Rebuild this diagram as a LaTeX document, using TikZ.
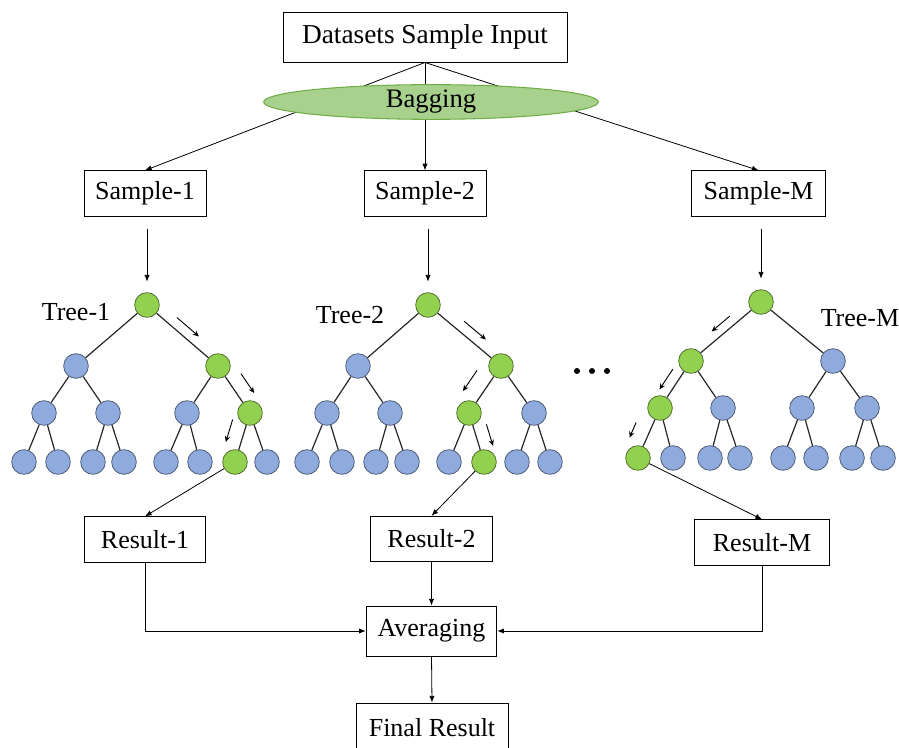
\documentclass[tikz,border=0pt]{standalone}
\usepackage{fontspec}
\setmainfont{Liberation Serif}
\usepackage{tikz}
\usetikzlibrary{calc,shapes.geometric,arrows.meta}

\definecolor{leafblue}{HTML}{8FAADC}
\definecolor{pathgreen}{HTML}{92D050}
\definecolor{bagfill}{HTML}{A9D18E}
\definecolor{bagline}{HTML}{70AD47}

\tikzset{
  box/.style={draw, line width=0.7pt, minimum height=34pt, inner sep=0pt, font=\fontsize{19.5}{22}\selectfont},
  label/.style={font=\fontsize{19.5}{22}\selectfont},
  tnode/.style={circle, line width=0.6pt, minimum size=18.5pt, inner sep=0pt},
  edge/.style={line width=0.9pt, draw=black!85},
  arr/.style={-{Latex[length=5pt,width=4pt]}, line width=0.6pt},
  walk/.style={-{Stealth[length=4.5pt,width=4pt]}, line width=0.7pt}
}

\begin{document}
\begin{tikzpicture}[x=0.75pt,y=-0.75pt]
    \clip (0,0) rectangle (899,748);

    % draw input and samples
    \node[box, minimum width=213pt, minimum height=37.5pt, font=\fontsize{20.5}{24}\selectfont] (data) at (425,37) {Datasets Sample Input};
    \node[box, minimum width=91.5pt] (s1) at (145,193.5) {Sample-1};
    \node[box, minimum width=91.5pt] (s2) at (425,193.5) {Sample-2};
    \node[box, minimum width=100pt] (sM) at (758.5,193.5) {Sample-M};

    \draw[arr] (data.south) -- (s1.north);
    \draw[arr] (data.south) -- (s2.north);
    \draw[arr] (data.south) -- (sM.north);

    % draw bagging
    \node[ellipse, draw=bagline, fill=bagfill, line width=0.8pt, minimum width=251pt, minimum height=26pt,
          inner sep=0pt, font=\fontsize{20}{22}\selectfont] (bag) at (431,102) {Bagging};

    % draw tree 1
    \foreach \n/\x/\y/\c in {0/147/305/pathgreen, 1/76/366/leafblue, 2/218/366/pathgreen,
        3/44/413/leafblue, 4/108/413/leafblue, 5/187/413/leafblue, 6/250/413/pathgreen,
        7/24/462/leafblue, 8/58/462/leafblue, 9/93/462/leafblue, 10/124/462/leafblue,
        11/166/462/leafblue, 12/200/462/leafblue, 13/235/462/pathgreen, 14/267/462/leafblue}
    \node[tnode, fill=\c, draw=\c!55!black] (t1-\n) at (\x,\y) {};

    % draw tree 2
    \foreach \n/\x/\y/\c in {0/428/305/pathgreen, 1/358/366/leafblue, 2/501/366/pathgreen,
        3/327/413/leafblue, 4/390/413/leafblue, 5/469/413/pathgreen, 6/534/413/leafblue,
        7/307/462/leafblue, 8/342/462/leafblue, 9/376/462/leafblue, 10/407/462/leafblue,
        11/449/462/leafblue, 12/484/462/pathgreen, 13/517/462/leafblue, 14/550/462/leafblue}
    \node[tnode, fill=\c, draw=\c!55!black] (t2-\n) at (\x,\y) {};

    % draw tree M
    \foreach \n/\x/\y/\c in {0/761/302/pathgreen, 1/691/361/pathgreen, 2/833/361/leafblue,
        3/660/408/pathgreen, 4/723/408/leafblue, 5/802/408/leafblue, 6/867/408/leafblue,
        7/638/458/pathgreen, 8/673/458/leafblue, 9/710/458/leafblue, 10/740/458/leafblue,
        11/783/458/leafblue, 12/816/458/leafblue, 13/852/458/leafblue, 14/883/458/leafblue}
    \node[tnode, fill=\c, draw=\c!55!black] (tM-\n) at (\x,\y) {};

    % draw tree edges
    \foreach \t in {t1,t2,tM}
    \foreach \i in {1,...,14} {
        \pgfmathtruncatemacro\p{(\i-1)/2}
        \draw[edge] (\t-\p) -- (\t-\i);
    }

    % draw tree labels and dots
    \node[label] (lab1) at (76,312) {Tree-1};
    \node[label] (lab2) at (350,315) {Tree-2};
    \node[label] (labM) at (860,318) {Tree-M};
    \foreach \k/\x in {1/577,2/592,3/607}
    \node[circle, fill, inner sep=0pt, minimum size=4.5pt] (dot\k) at (\x,371) {};

    % draw sample to tree arrows
    \draw[arr, shorten <=9pt, shorten >=8pt] (t1-0 |- s1.south) -- (t1-0);
    \draw[arr, shorten <=9pt, shorten >=8pt] (t2-0 |- s2.south) -- (t2-0);
    \draw[arr, shorten <=9pt, shorten >=8pt] (tM-0 |- sM.south) -- (tM-0);

    % draw decision path arrows
    \draw[walk] ($(t1-0)!0.33!(t1-2)!7.5pt!90:(t1-2)$) -- ($(t1-0)!0.64!(t1-2)!7.5pt!90:(t1-2)$);
    \draw[walk] ($(t1-2)!0.34!(t1-6)!11pt!90:(t1-6)$) -- ($(t1-2)!0.75!(t1-6)!11pt!90:(t1-6)$);
    \draw[walk] ($(t1-6)!0.22!(t1-13)!11pt!-90:(t1-13)$) -- ($(t1-6)!0.68!(t1-13)!11pt!-90:(t1-13)$);

    \draw[walk] ($(t2-0)!0.40!(t2-2)!8pt!90:(t2-2)$) -- ($(t2-0)!0.70!(t2-2)!8pt!90:(t2-2)$);
    \draw[walk] ($(t2-2)!0.30!(t2-5)!13pt!-90:(t2-5)$) -- ($(t2-2)!0.74!(t2-5)!13pt!-90:(t2-5)$);
    \draw[walk] ($(t2-5)!0.31!(t2-12)!10pt!90:(t2-12)$) -- ($(t2-5)!0.75!(t2-12)!10pt!90:(t2-12)$);

    \draw[walk] ($(tM-0)!0.36!(tM-1)!7pt!-90:(tM-1)$) -- ($(tM-0)!0.62!(tM-1)!7pt!-90:(tM-1)$);
    \draw[walk] ($(tM-1)!0.30!(tM-3)!8pt!-90:(tM-3)$) -- ($(tM-1)!0.73!(tM-3)!8pt!-90:(tM-3)$);
    \draw[walk] ($(tM-3)!0.42!(tM-7)!12pt!-90:(tM-7)$) -- ($(tM-3)!0.72!(tM-7)!12pt!-90:(tM-7)$);

    % draw results
    \node[box, minimum width=91pt] (r1) at (145,539.5) {Result-1};
    \node[box, minimum width=92pt] (r2) at (431.5,539) {Result-2};
    \node[box, minimum width=101pt] (rM) at (762,542.5) {Result-M};
    \node[box, minimum width=98pt, minimum height=37.5pt] (avg) at (431.5,631) {Averaging};
    \node[box, minimum width=114pt, minimum height=37.5pt] (final) at (432,728) {Final Result};

    \draw[arr] (t1-13) -- (r1.north);
    \draw[arr] (t2-12) -- (r2.north);
    \draw[arr] (tM-7) -- (rM.north);
    \draw[arr] (r1.south) |- (avg.west);
    \draw[arr] (rM.south) |- (avg.east);
    \draw[arr] (r2.south) -- (avg.north);
    \draw[arr] (avg.south) -- (final.north);

\end{tikzpicture}
\end{document}
